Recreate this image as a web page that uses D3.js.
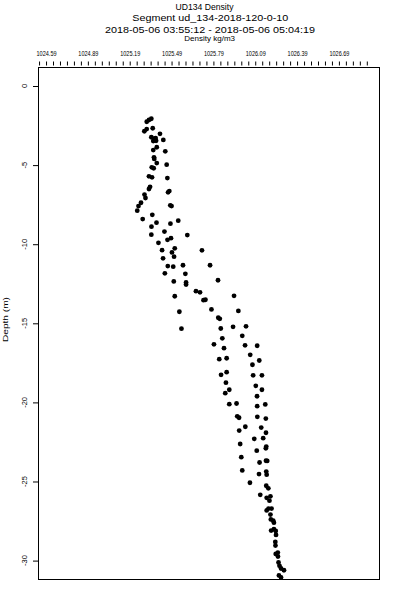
<!DOCTYPE html>
<html>
<head>
<meta charset="utf-8">
<script src="https://cdn.jsdelivr.net/npm/d3@7"></script>
<style>
body { margin: 0; background: #fff; }
text { font-family: "Liberation Sans", Arial, sans-serif; fill: #000; }
</style>
</head>
<body>
<div id="chart"></div>
<script>
var titleLines = ["UD134 Density", "Segment ud_134-2018-120-0-10", "2018-05-06 03:55:12 - 2018-05-06 05:04:19"];
var xTitle = "Density kg/m3";
var yTitle = "Depth (m)";
var xTickLabels = ["1024.59", "1024.89", "1025.19", "1025.49", "1025.79", "1026.09", "1026.39", "1026.69"];
var yTickValues = [0, -5, -10, -15, -20, -25, -30];

// density (kg/m3) and depth (m) of each sample
var density = [
    1025.345,1025.328,1025.312,1025.355,1025.312,1025.295,1025.407,1025.345,1025.364,1025.376,
    1025.379,1025.359,1025.431,1025.384,1025.359,1025.445,1025.364,1025.366,1025.384,1025.455,
    1025.348,1025.362,1025.328,1025.350,1025.460,1025.336,1025.328,1025.474,1025.465,1025.296,
    1025.303,1025.271,1025.253,1025.244,1025.481,1025.490,1025.352,1025.283,1025.382,1025.482,
    1025.538,1025.346,1025.439,1025.345,1025.603,1025.461,1025.486,1025.396,1025.513,1025.422,
    1025.493,1025.708,1025.429,1025.508,1025.463,1025.502,1025.572,1025.766,1025.442,1025.589,
    1025.506,1025.594,1025.594,1025.823,1025.665,1025.694,1025.513,1025.938,1025.719,1025.733,
    1025.546,1025.776,1025.969,1025.825,1025.836,1025.561,1025.843,1025.931,1026.024,1025.997,
    1025.854,1025.794,1025.866,1026.017,1026.104,1026.054,1025.832,1025.885,1026.119,1026.070,
    1025.845,1025.885,1026.075,1026.138,1025.880,1026.094,1026.138,1025.875,1025.904,1026.103,
    1025.904,1025.956,1026.104,1026.162,1025.961,1025.974,1026.105,1026.166,1026.019,1025.975,
    1026.133,1026.167,1026.083,1026.147,1025.982,1026.101,1026.166,1026.169,1025.990,1026.121,
    1026.167,1026.176,1025.997,1026.117,1026.169,1026.172,1026.052,1026.169,1026.184,1026.126,
    1026.172,1026.199,1026.192,1026.172,1026.185,1026.207,1026.199,1026.202,1026.219,1026.224,
    1026.204,1026.224,1026.237,1026.239,1026.234,1026.235,1026.237,1026.252,1026.253,1026.257,
    1026.264,1026.296,1026.275,1026.260,1026.275
];
var depth = [
    -2.07,-2.15,-2.26,-2.67,-2.72,-2.86,-3.02,-3.24,-3.33,-3.29,
    -3.46,-3.48,-3.41,-3.87,-4.05,-4.13,-4.51,-4.61,-4.87,-4.97,
    -5.14,-5.20,-5.71,-5.77,-5.82,-6.37,-6.51,-6.64,-6.72,-6.86,
    -7.08,-7.38,-7.59,-7.88,-7.54,-7.59,-8.14,-8.41,-8.64,-8.70,
    -8.51,-8.89,-9.20,-9.40,-9.42,-9.72,-9.62,-9.91,-10.26,-10.38,
    -10.52,-10.39,-10.89,-10.79,-11.38,-11.42,-11.33,-11.33,-11.84,-11.87,
    -12.35,-12.42,-12.55,-12.28,-12.97,-13.04,-13.29,-13.26,-13.54,-13.51,
    -14.27,-14.12,-14.22,-14.65,-14.72,-15.34,-15.33,-15.22,-15.19,-15.79,
    -15.95,-16.33,-16.57,-16.39,-16.42,-16.99,-17.27,-17.21,-17.35,-17.62,
    -18.26,-18.09,-18.29,-18.29,-18.75,-18.95,-19.20,-19.42,-19.20,-19.61,
    -20.11,-20.07,-20.24,-20.13,-20.88,-20.97,-20.91,-21.02,-21.54,-21.78,
    -21.59,-21.92,-22.30,-22.26,-22.63,-23.05,-22.90,-22.79,-23.46,-23.80,
    -23.69,-23.70,-24.30,-24.53,-24.37,-24.57,-25.08,-25.27,-25.43,-25.84,
    -26.03,-25.94,-26.21,-26.83,-26.71,-26.71,-27.09,-27.40,-27.48,-27.60,
    -28.10,-28.02,-28.13,-28.38,-28.82,-29.05,-29.58,-29.49,-29.74,-30.12,
    -30.33,-30.61,-30.50,-30.94,-31.07
];

var box = {left: 38.5, top: 67.5, right: 379.5, bottom: 579.5};

var xScale = d3.scaleLinear().domain([1024.536, 1026.981]).range([box.left, box.right]);
var yScale = d3.scaleLinear().domain([1.17, -31.195]).range([box.top, box.bottom]);

var svg = d3.select("#chart").append("svg")
    .attr("width", 400)
    .attr("height", 600);

// titles
var titleX = [204.5, 210.3, 210];
var titleY = [10.3, 21, 33.4];
var titleW = [58, 156, 210];
svg.selectAll(".title")
    .data(titleLines)
    .enter().append("text")
    .attr("class", "title")
    .attr("x", function(d, i) { return titleX[i]; })
    .attr("y", function(d, i) { return titleY[i]; })
    .attr("text-anchor", "middle")
    .attr("font-size", 9)
    .attr("textLength", function(d, i) { return titleW[i]; })
    .attr("lengthAdjust", "spacingAndGlyphs")
    .text(function(d) { return d; });

svg.append("text")
    .attr("x", 209.7)
    .attr("y", 40.7)
    .attr("text-anchor", "middle")
    .attr("font-size", 6.5)
    .attr("textLength", 50.7)
    .attr("lengthAdjust", "spacingAndGlyphs")
    .text(xTitle);

// top axis: small ticks every 0.05, labels every 0.3
var minorTicks = d3.range(0, 48).map(function(i) { return +(1024.54 + i * 0.05).toFixed(2); });
var xMinor = svg.append("g")
    .attr("transform", "translate(0,65.5)")
    .call(d3.axisTop(xScale).tickValues(minorTicks).tickSize(4).tickFormat(""));
xMinor.select(".domain").remove();

var xLabels = svg.append("g")
    .attr("transform", "translate(0,65.5)")
    .call(d3.axisTop(xScale)
        .tickValues(xTickLabels.map(Number))
        .tickSize(0)
        .tickPadding(10)
        .tickFormat(function(d, i) { return xTickLabels[i]; }));
xLabels.select(".domain").remove();
xLabels.selectAll("text")
    .attr("fill", "#000")
    .attr("font-family", "Liberation Sans, Arial, sans-serif")
    .attr("font-size", 8)
    .attr("textLength", 20)
    .attr("lengthAdjust", "spacingAndGlyphs");

// left axis
var yAxis = svg.append("g")
    .attr("transform", "translate(" + box.left + ",0)")
    .call(d3.axisLeft(yScale).tickValues(yTickValues).tickSize(5.5).tickFormat(""));
yAxis.select(".domain").remove();

svg.selectAll(".ylab")
    .data(yTickValues)
    .enter().append("text")
    .attr("class", "ylab")
    .attr("transform", function(d) { return "translate(27," + yScale(d) + ") rotate(-90)"; })
    .attr("text-anchor", "middle")
    .attr("font-size", 7.5)
    .text(function(d) { return String(d); });

svg.append("text")
    .attr("transform", "translate(7.5,319.5) rotate(-90)")
    .attr("text-anchor", "middle")
    .attr("font-size", 6.5)
    .attr("textLength", 45)
    .attr("lengthAdjust", "spacingAndGlyphs")
    .text(yTitle);

// frame
svg.append("rect")
    .attr("x", box.left)
    .attr("y", box.top)
    .attr("width", box.right - box.left)
    .attr("height", box.bottom - box.top)
    .attr("fill", "none")
    .attr("stroke", "#000")
    .attr("stroke-width", 1);

// samples
svg.selectAll(".pt")
    .data(density)
    .enter().append("circle")
    .attr("class", "pt")
    .attr("cx", function(d) { return xScale(d); })
    .attr("cy", function(d, i) { return yScale(depth[i]); })
    .attr("r", 2.4)
    .style("fill", "#000");
</script>
</body>
</html>
